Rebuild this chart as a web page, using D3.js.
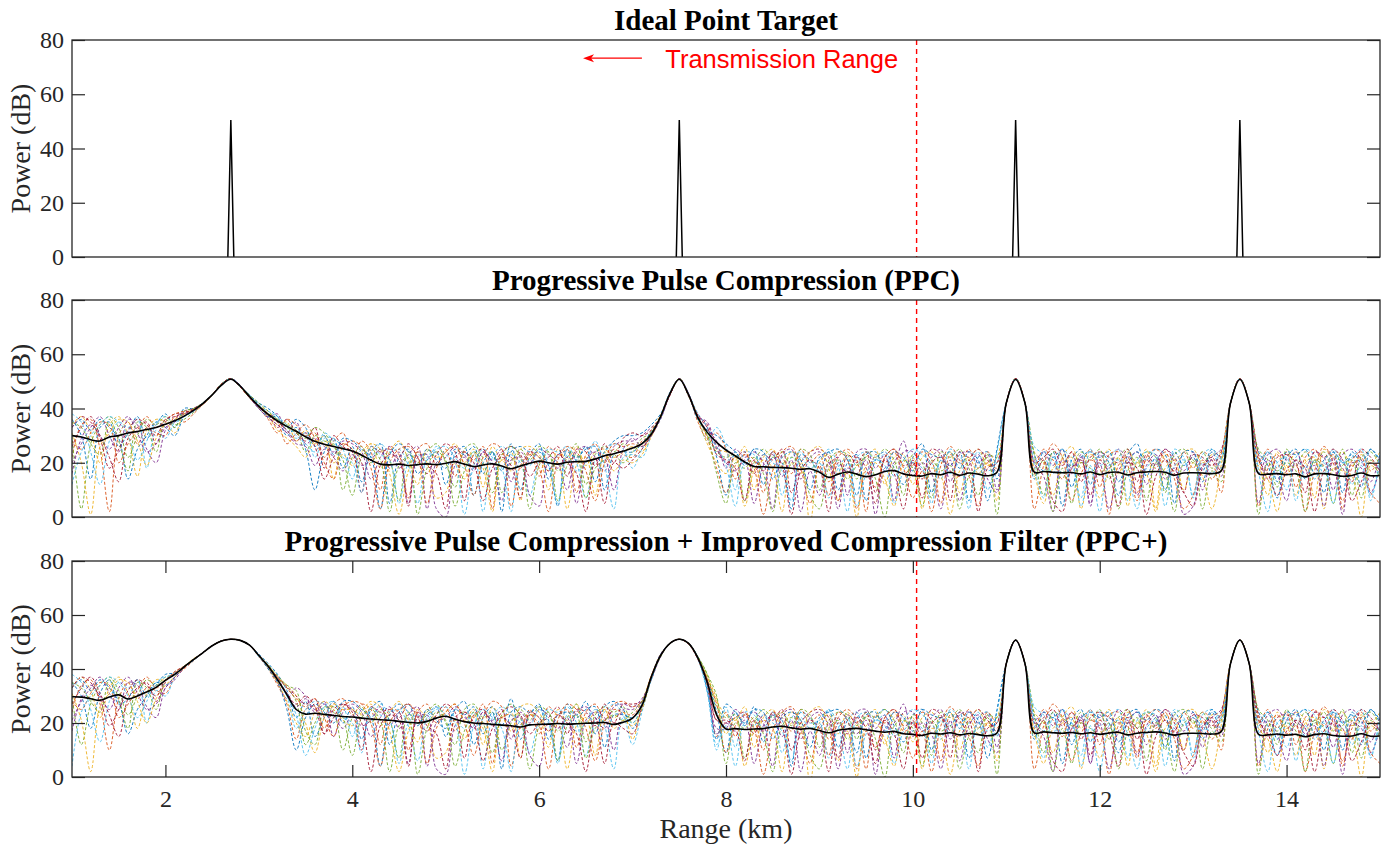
<!DOCTYPE html>
<html>
<head>
<meta charset="utf-8">
<script src="https://cdn.jsdelivr.net/npm/d3@7"></script>
<style>
  body { margin: 0; background: #fff; }
</style>
</head>
<body>
<div id="chart"></div>
<script>
// sample grid of every run: 1.0 km to 15.0 km, one value every 0.1 km
const xStart = 1;
const xStep = 0.1;

// ideal point targets
const peakX = [2.7, 7.5, 11.1, 13.5];
const peakDb = [50.5, 50.5, 50.5, 50.5];

// transmission range marker (km)
const txRange = 10.04;

const yTicks = [0, 20, 40, 60, 80];
const xTicks = [2, 4, 6, 8, 10, 12, 14];

// PPC: mean curve (black)
const ppcMean = [
  30,29.5,28.5,28,29.5,30,31,31.5,32.3,33,
  34.2,35.5,37.2,39.3,41.8,45,48.6,50.8,48.3,44.4,
  40.8,37.8,35.4,33.4,31.6,29.6,27.9,26.8,26,25.2,
  24.3,22.8,21,19.5,19.2,19.5,19,19.3,19.6,19.3,
  19.8,20.4,19.5,18.6,19.2,19.6,18.8,17.8,18.8,19.8,
  20.6,20,19.5,20.2,20.4,20.5,21.4,22.6,23.3,24.3,
  25.4,27,30.5,37,45.5,50.8,45,36.5,31.2,27.5,
  24.7,22.5,20.3,18.6,18.5,18.3,18.2,18,17.6,17.8,
  16.5,14.6,15.8,16.6,15.8,14.9,15.6,16.8,17.1,15.9,
  15.3,15.1,16,15.6,16.5,15.4,16.2,15.8,15.2,16.5,
  42,50.7,42,16.5,16.8,16.5,16.3,16.4,15.9,16.6,
  15.6,16.4,16.5,15.5,16.3,16.6,16.8,16.5,15.4,16.2,
  16.3,16.2,16,17,42,50.7,42,16,15.8,16,
  15.6,15.9,14.8,15.9,16,15.6,15,15.3,16.2,15.2,
  15.3
];

// PPC: single runs (dashed, coloured)
const ppcRuns = [
  [36,30,14,33,35,26,31,37,29,34,
   38,33,40,40,42,45,49,51,48,45,
   42,40,37,30,33,25,10,24,29,18,
   26,13,24,27,5,22,25,16,21,24,
   12,23,26,8,20,24,17,27,10,22,
   24,19,4,25,21,26,13,24,28,30,
   30,31,34,38,46,51,45,38,33,22,
   8,24,19,25,12,22,20,3,23,21,
   17,24,10,20,23,6,21,24,18,12,
   22,27,9,21,19,24,6,22,24,14,
   42,51,42,23,17,24,4,21,25,12,
   24,20,8,23,27,15,22,10,24,19,
   22,13,24,18,42,51,42,24,19,7,
   22,25,14,21,9,24,20,23,11,25,
   20],
  [22,34,36,25,2,30,35,27,33,31,
   30,37,35,38,41.5,45,49,51,48,44,
   40,36,31,36,34,30,31,22,28,31,
   21,28,24,10,26,23,7,25,27,19,
   25,15,24,21,26,3,23,22,18,25,
   15,26,22,25,9,23,27,20,25,23,
   22,28,30,37,45,51,45,35,29,31,
   25,14,23,21,9,24,22,16,25,20,
   23,13,22,25,21,2,23,20,24,16,
   19,24,21,5,23,20,25,18,24,20,
   42,51,42,18,25,21,14,24,20,25,
   11,23,24,19,6,22,25,21,17,24,
   18,24,21,9,42,51,42,20,25,18,
   24,11,22,25,19,23,3,21,24,17,
   22],
  [34,37,31,20,34,37,30,15,32,36,
   35,31,38,39.5,42,45,49,51,48,44,
   41,39,34,35,28,32,27,30,14,27,
   25,22,27,18,24,28,21,12,25,22,
   24,27,20,25,11,26,21,24,6,23,
   22,10,25,21,26,19,24,25,22,24,
   26,24,32,37.5,45.5,51,45,37,30,25,
   24,21,26,10,22,25,18,24,21,-2,
   20,23,16,24,19,22,25,12,22,23,
   12,22,24,20,24,9,21,25,19,22,
   42,51,42,24,20,8,22,26,18,23,
   21,25,16,24,20,25,3,23,21,24,
   25,20,23,24,42,51,42,22,8,24,
   18,24,21,7,25,22,24,19,23,20,
   24],
  [20,27,33,37,30,24,36,34,25,20,
   32,36,39,40,41.8,45,48.8,51,48.5,44,
   40,37,38,31,35,27,29,26,24,28,
   27,24,14,22,26,18,23,26,3,20,
   22,26,23,18,24,21,25,13,24,20,
   25,23,20,10,24,26,22,17,26,28,
   28,30,33,36.5,45.5,51,45.5,36,32,28,
   18,25,22,24,20,3,23,25,14,22,
   24,20,22,8,24,25,18,23,6,24,
   24,17,22,25,13,23,24,20,23,10,
   42,51,42,21,24,19,25,16,23,4,
   23,18,25,22,24,12,20,25,22,17,
   24,10,22,25,42,51,42,16,23,25,
   21,24,18,24,22,10,23,25,21,13,
   23],
  [30,3,27,34,37,33,22,30,36,34,
   37,34,36,38.5,41.5,45,49,51,48,45,
   42,39,36,34,32,24,30,28,27,10,
   22,26,20,25,21,6,24,20,24,27,
   20,11,25,27,22,24,9,20,25,21,
   26,24,17,22,27,12,23,26,24,27,
   25,29,31,37,45,51,44.5,36.5,30,24,
   22,23,6,20,25,22,24,19,25,23,
   10,21,24,23,14,24,22,25,21,8,
   23,20,7,24,22,25,18,8,23,22,
   42,51,42,23,8,24,22,19,24,21,
   25,14,22,25,18,24,22,9,23,25,
   20,24,18,21,42,51,42,25,21,11,
   25,19,24,20,24,17,25,8,22,24,
   19],
  [38,35,24,12,28,35,33,36,18,32,
   29,35,37,39,42,45,49,51,48,44.5,
   40,37,36,32,29,31,22,29,29,25,
   14,25,22,27,24,25,19,5,22,25,
   26,22,18,24,2,22,26,23,20,8,
   21,25,24,26,20,7,21,24,27,25,
   18,25,30,37,45.5,51,45.5,37,28,33,
   26,10,24,23,18,24,8,22,24,20,
   21,25,19,2,22,24,21,23,15,21,
   25,23,20,14,25,22,20,24,10,24,
   42,51,42,26,23,16,25,20,7,25,
   19,22,25,6,21,24,23,16,25,22,
   8,23,25,20,42,51,42,21,24,20,
   10,22,25,23,16,25,20,22,25,6,
   24],
  [26,33,37,30,22,13,29,33,35,27,
   35,38,38,40,42,45,49,51,48,44,
   41,38,33,36,31,28,33,18,30,26,
   24,9,26,24,25,22,27,22,16,23,
   27,24,6,23,25,19,24,26,23,15,
   20,22,26,15,25,24,19,27,20,29,
   31,30,32,37,45,51,45,37.5,34,26,
   20,22,24,16,23,21,25,9,20,24,
   25,22,6,23,20,24,9,22,25,19,
   20,14,25,23,6,24,22,25,21,17,
   42,51,42,20,22,25,19,24,13,22,
   24,22,20,25,13,23,19,25,20,9,
   23,22,19,24,42,51,42,23,14,22,
   23,20,9,24,22,25,21,13,25,22,
   17],
  [33,36,32,36,33,29,14,25,30,35,
   33,30,37,39,42,45,48.5,51,48.5,44,
   41.5,37,37,33,36,33,26,30,23,29,
   28,25,22,3,23,27,24,19,25,21,
   18,25,23,26,16,24,2,24,26,24,
   27,14,23,24,22,25,26,10,23,24,
   24,27,31.5,36.5,45.5,51,45,36,32,30,
   27,24,20,25,24,14,22,24,21,10,
   22,24,25,21,8,23,24,17,24,22,
   17,25,23,22,24,18,24,21,6,25,
   42,51,42,14,24,22,25,11,22,24,
   22,24,13,20,24,21,25,23,5,24,
   24,17,25,22,42,51,42,19,24,13,
   24,23,25,16,21,24,9,24,20,25,
   21],
  [28,25,31,35,34,20,27,32,37,33,
   36,38,39,39,42,45,49,51,48,44,
   41,38,35,27,31,34,29,20,14,26,
   28,26,18,3,20,25,26,22,5,18,
   24,26,19,8,22,27,25,4,19,23,
   18,2,21,26,24,17,6,20,27,26,
   27,26,31,37,45.5,51,45,37,29,18,
   9,19,23,18,1,17,24,26,18,5,
   19,8,24,21,3,17,11,22,25,18,
   7,17,2,19,26,21,15,4,20,18,
   42,51,42,3,19,27,22,6,16,21,
   18,1,19,22,9,21,18,24,14,3,
   8,21,14,23,42,51,42,4,18,23,
   16,19,2,17,26,20,6,18,22,9,
   5],
  [31,20,1,26,31,36,35,28,19,29,
   34,36,38,39.8,41.5,45,49,51,48,44.5,
   40.5,37,32,29,26,22,28,27,20,23,
   19,24,27,25,16,1,17,24,20,7,
   9,20,14,23,18,2,21,17,25,26,
   23,17,20,3,19,22,8,24,17,21,
   20,23,29.5,36.5,45.5,51,45,36,27,20,
   16,22,4,17,21,18,2,20,16,24,
   26,18,6,17,0,19,20,14,4,20,
   22,3,18,15,1,17,22,16,20,6,
   42,51,42,17,5,18,20,22,3,17,
   7,17,22,4,20,16,2,18,21,10,
   20,15,3,19,42,51,42,18,14,2,
   19,8,20,22,3,18,17,15,0,19,
   16],
  [16,29,34,30,25,33,37,31,24,27,
   33,35,38,39,41.8,45,48.7,51,48.3,44.2,
   40,36.5,34,31,27,26,19,25,22,17,
   23,19,21,25,18,24,5,22,23,3,
   0,19,22,17,24,20,6,21,22,8,
   4,20,18,22,5,21,24,22,10,25,
   29,26,30,36,45,51,45.5,37,35,25,
   20,17,21,5,19,23,15,21,2,17,
   8,20,3,18,16,21,1,18,20,28,
   15,20,16,3,21,6,19,23,14,9,
   42,51,42,20,15,2,21,18,22,5,
   20,3,17,21,8,19,23,14,18,1,
   4,19,21,15,42,51,42,5,21,16,
   6,21,16,19,4,22,1,20,18,9,
   18],
  [35,33,27,23,36,28,17,35,33,24,
   36,33,39,40,42,45,49,51,48,44,
   41,38,36,33,31,29,33,31,26,21,
   8,22,25,21,2,19,22,1,18,24,
   21,4,17,24,20,9,23,26,22,3,
   19,24,6,19,23,7,18,21,23,20,
   24,27,31,37,45.5,51,45,36.5,30,16,
   5,20,18,22,16,2,19,22,19,8,
   3,18,21,14,19,22,14,0,19,21,
   18,4,21,17,19,3,15,18,22,1,
   42,51,42,15,21,2,18,5,20,18,
   16,20,3,17,22,6,20,16,2,20,
   21,3,17,13,42,51,42,1,20,17,
   20,17,2,21,18,5,19,21,7,21,
   14],
  [12,24,30,34,37,35,30,21,28,35,
   37,35,37,39,42,45,49,51,48,45,
   41,39,37,34,30,27,24,31,28,22,
   20,9,26,23,21,5,20,23,21,26,
   23,20,1,19,25,22,18,2,21,19,
   25,20,5,23,17,20,28,19,3,22,
   23,22,30,36.5,45.5,51,45,36,31,26,
   19,4,20,19,23,20,17,6,22,18,
   20,7,18,22,4,16,21,19,5,17,
   20,18,5,21,16,20,3,20,17,20,
   42,51,42,19,7,22,16,20,4,19,
   2,19,21,16,3,18,21,4,19,21,
   7,20,16,22,42,51,42,17,2,20,
   22,6,19,14,20,5,21,12,19,8,
   20],
  [33,37,35,29,18,25,32,36,34,30,
   36,37,38.5,39.5,41.5,45,49,51,48,44,
   40.5,37.5,35,32,28,31,26,14,22,27,
   25,20,2,19,23,21,4,24,19,16,
   3,22,24,20,6,18,22,19,7,24,
   22,17,23,20,16,2,22,5,20,18,
   21,25,30,37,45,51,44.5,37,33,23,
   21,18,6,21,17,24,19,1,17,21,
   18,2,20,16,22,18,5,21,16,3,
   21,7,20,22,17,15,21,2,18,20,
   42,51,42,16,21,6,2,18,21,8,
   21,16,4,20,18,1,15,21,16,9,
   4,18,22,17,42,51,42,21,16,8,
   17,21,18,2,17,20,18,6,13,20,
   17]
];

// PPC+: mean curve (black)
const ppcPlusMean = [
  29.7,29.6,29,28.4,29.6,30.4,28.9,30,31.5,33.2,
  35.8,38,40.8,43.5,46,48.6,50.4,51,50.6,48.8,
  45,41,36,30.5,25,23.3,23.6,23.2,22.8,22.4,
  22.2,21.8,21.5,21.2,21,20.6,20.3,20,20.6,21.8,
  22.5,21.4,20.5,20,19.8,19.5,19.2,19,18.5,19.3,
  19.5,19.6,19.8,19.6,19.7,19.9,20,20.2,19.5,20.3,
  21.8,26.5,37,45,49.5,51,49.5,44,35,23,
  17.8,17.9,17.6,17.8,17.9,18.5,18.8,18.2,17.7,18,
  17.2,16.4,17.3,17.8,18,17.5,17,16.6,16.9,16,
  15.8,15.4,16.2,15.9,16.4,15.6,16.1,15.7,15.3,16.3,
  42,50.7,42,16.3,16.7,16.4,16.2,16.5,16,16.4,
  15.8,16.3,16.6,15.6,16.2,16.5,16.7,16.3,15.5,16.1,
  16.2,16.1,15.9,16.8,42,50.7,42,15.8,15.6,15.9,
  15.5,15.8,14.9,15.7,16,15.4,15.1,15.2,16,15.1,
  15.2
];

// PPC+: single runs (dashed, coloured)
const ppcPlusRuns = [
  [35,30,18,31,36,27,29,36,30,34,
   38,38.5,40.8,43.5,46,48.6,50.4,51,50.6,48.8,
   45.5,42,38,32,22,28,15,22,28,20,
   26,14,25,28,12,24,27,20,23,26,
   15,25,28,12,22,26,19,29,14,23,
   26,21,6,27,23,28,16,26,28,25,
   18,25,36,45,49.5,51,49.5,44.5,36,24,
   9,24,19,26,13,23,21,4,24,22,
   18,25,11,21,24,7,22,25,19,13,
   23,25,10,22,19,24,7,22,24,15,
   42,50.7,42,22,17,24,5,21,25,13,
   24,20,9,23,25,16,22,11,24,19,
   22,14,24,18,42,50.7,42,24,19,8,
   21,25,15,21,10,24,20,23,12,25,
   20],
  [24,34,36,27,10,29,35,29,33,32,
   31,37,40,43,46,48.6,50.4,51,50.6,48.8,
   44.5,40,34,27,14,25,26,18,27,29,
   23,27,25,12,25,24,10,24,27,20,
   26,17,24,22,27,5,22,23,18,25,
   16,26,23,25,11,24,27,21,25,24,
   23,28,37,45,49.5,51,49.2,43.5,33,15,
   24,15,23,21,10,24,22,17,25,20,
   23,14,22,25,21,3,23,20,24,17,
   19,24,21,6,23,20,25,18,24,20,
   42,50.7,42,18,25,21,15,24,20,25,
   12,23,24,19,7,22,25,21,17,24,
   18,24,21,10,42,50.7,42,20,25,18,
   24,12,22,25,19,23,4,21,24,17,
   22],
  [33,37,32,22,33,37,31,18,31,36,
   36,39,41,43.8,46,48.6,50.4,51,50.6,48.8,
   45,41.5,37,34,30,20,9,22,27,25,
   25,23,27,19,24,28,21,13,25,22,
   24,27,21,25,12,26,22,24,7,23,
   22,11,25,21,27,20,24,25,22,24,
   14,27,37.5,45.5,49.5,51,49.5,44,37,28,
   23,21,26,11,22,25,18,24,21,-2,
   20,23,16,24,19,22,25,12,22,23,
   13,22,24,20,24,10,21,25,19,22,
   42,50.7,42,24,20,9,22,26,18,23,
   21,25,16,24,20,25,4,23,21,24,
   25,20,23,24,42,50.7,42,22,9,24,
   18,24,21,8,25,22,24,19,23,20,
   24],
  [21,28,33,37,31,25,35,34,26,22,
   33,36,40.5,43.5,46,48.6,50.4,51,50.6,48.8,
   45,40.5,35,29,33,30,25,28,15,24,
   27,24,15,22,26,18,23,26,4,20,
   22,26,23,18,24,21,25,14,24,20,
   25,23,20,11,24,26,22,18,26,27,
   26,29,36,44.5,49.5,51,49.5,44,34,18,
   18,25,22,24,20,4,23,25,14,22,
   24,20,22,9,24,25,18,23,7,24,
   24,17,22,25,14,23,24,20,23,11,
   42,50.7,42,21,24,19,25,16,23,5,
   23,18,25,22,24,12,20,25,22,17,
   24,11,22,25,42,50.7,42,16,23,25,
   21,24,18,24,22,11,23,25,21,13,
   23],
  [30,12,27,34,37,32,23,30,36,34,
   37,38,41,43.5,46,48.6,50.4,51,50.6,48.8,
   45,41,36.5,33,28,12,20,26,24,10,
   22,26,20,25,21,7,24,20,24,27,
   20,12,25,27,22,24,10,20,25,21,
   26,24,17,22,27,13,23,26,24,26,
   20,26,36.5,45,49.5,51,49.2,44.5,38,26,
   22,23,7,20,25,22,24,19,25,23,
   11,21,24,23,14,24,22,25,21,9,
   23,20,8,24,22,25,18,9,23,22,
   42,50.7,42,23,9,24,22,19,24,21,
   25,14,22,25,18,24,22,10,23,25,
   20,24,18,21,42,50.7,42,25,21,12,
   25,19,24,20,24,17,25,9,22,24,
   19],
  [38,35,25,13,28,35,33,36,20,32,
   30,37,40.6,43.2,46,48.6,50.4,51,50.6,48.8,
   44.5,40.5,35.5,30,18,25,28,27,22,26,
   15,25,22,27,24,25,19,6,22,25,
   26,22,18,24,3,22,26,23,20,9,
   21,25,24,26,20,8,21,24,27,23,
   12,24,37,45.5,49.5,51,49.5,43.5,31,10,
   26,11,24,23,18,24,9,22,24,20,
   21,25,19,3,22,24,21,23,15,21,
   25,23,20,14,25,22,20,24,11,24,
   42,50.7,42,26,23,16,25,20,8,25,
   19,22,25,7,21,24,23,16,25,22,
   9,23,25,20,42,50.7,42,21,24,20,
   11,22,25,23,16,25,20,22,25,7,
   24],
  [27,33,37,31,23,15,29,33,35,28,
   35,39,41,43.6,46,48.6,50.4,51,50.6,48.8,
   45,41,37,33.5,30,27,29,16,25,27,
   24,10,26,24,25,22,27,22,17,23,
   27,24,7,23,25,19,24,26,23,16,
   20,22,26,16,25,24,19,27,20,27,
   27,28,37,45,49.5,51,49.5,44,36,21,
   20,22,24,16,23,21,25,10,20,24,
   25,22,7,23,20,24,10,22,25,19,
   20,15,25,23,7,24,22,25,21,17,
   42,50.7,42,20,22,25,19,24,14,22,
   24,22,20,25,14,23,19,25,20,10,
   23,22,19,24,42,50.7,42,23,15,22,
   23,20,10,24,22,25,21,14,25,22,
   17],
  [33,36,32,36,33,28,16,25,30,35,
   34,37,40.5,43.2,46,48.6,50.4,51,50.6,48.8,
   45,40,35,25,10,22,27,24,20,28,
   28,25,22,4,23,27,24,19,25,21,
   18,25,23,26,16,24,3,24,26,24,
   27,14,23,24,22,25,26,11,23,23,
   22,27,36,45,49.5,51,49.5,44,32,14,
   27,24,20,25,24,14,22,24,21,11,
   22,24,25,21,9,23,24,17,24,22,
   17,25,23,22,24,18,24,21,7,25,
   42,50.7,42,14,24,22,25,12,22,24,
   22,24,13,20,24,21,25,23,6,24,
   24,17,25,22,42,50.7,42,19,24,14,
   24,23,25,16,21,24,10,24,20,25,
   21],
  [28,25,31,35,34,22,27,32,37,33,
   36,38.5,41,43.5,46,48.6,50.4,51,50.6,48.8,
   45,41,37,33,29,26,29,22,15,26,
   28,27,20,4,20,25,27,23,5,18,
   24,27,20,8,22,28,26,4,19,23,
   19,3,21,27,25,18,6,20,27,28,
   26,28,37.5,45,49.5,51,49.5,44,36,27,
   9,19,23,18,1,17,24,26,18,5,
   19,8,24,21,3,17,11,22,25,18,
   7,17,2,19,26,21,15,4,20,18,
   42,50.7,42,3,19,27,22,6,16,21,
   18,1,19,22,9,21,18,24,14,3,
   8,21,14,23,42,50.7,42,4,18,23,
   16,19,2,17,26,20,6,18,22,9,
   5],
  [31,21,2,26,31,36,35,28,20,29,
   34,37,40.5,43.5,46,48.6,50.4,51,50.6,48.8,
   45,40.5,35,28,20,15,24,28,25,21,
   19,24,28,26,17,2,17,25,21,7,
   9,21,14,23,18,2,22,17,26,27,
   24,17,20,3,19,22,8,25,18,21,
   19,25,36.5,45,49.5,51,49.5,44,37,29,
   16,22,4,17,21,18,2,20,16,24,
   26,18,6,17,0,19,20,14,4,20,
   22,3,18,15,1,17,22,16,20,6,
   42,50.7,42,17,5,18,20,22,3,17,
   7,17,22,4,20,16,2,18,21,10,
   20,15,3,19,42,50.7,42,18,14,2,
   19,8,20,22,3,18,17,15,0,19,
   16],
  [17,29,34,30,25,33,37,31,25,27,
   33,37,40.6,43.4,46,48.6,50.4,51,50.6,48.8,
   45,41,36.5,31,26,29,24,27,23,18,
   23,19,21,26,19,24,5,22,23,3,
   1,19,22,18,24,20,6,21,22,8,
   4,20,18,22,5,21,24,22,10,25,
   25,28,37,45.5,49.5,51,49.5,44,34,16,
   20,17,21,5,19,23,15,21,2,17,
   8,20,3,18,16,21,1,18,20,27,
   15,20,16,3,21,6,19,23,14,9,
   42,50.7,42,20,15,2,21,18,22,5,
   20,3,17,21,8,19,23,14,18,1,
   4,19,21,15,42,50.7,42,5,21,16,
   6,21,16,19,4,22,1,20,18,9,
   18],
  [35,33,28,24,36,29,18,35,33,25,
   36,38,41,43.5,46,48.6,50.4,51,50.6,48.8,
   45,41.5,37.5,34,32,17,12,25,26,22,
   8,22,25,21,2,19,22,1,18,24,
   21,4,17,24,20,9,23,27,22,3,
   19,24,6,19,23,7,18,21,23,21,
   24,28,37,44.5,49.5,51,49.5,44.5,38,30,
   5,20,18,22,16,2,19,22,19,8,
   3,18,21,14,19,22,14,0,19,21,
   18,4,21,17,19,3,15,18,22,1,
   42,50.7,42,15,21,2,18,5,20,18,
   16,20,3,17,22,6,20,16,2,20,
   21,3,17,13,42,50.7,42,1,20,17,
   20,17,2,21,18,5,19,21,7,21,
   14],
  [4,24,30,34,37,35,30,22,28,35,
   37,38,40.8,43.5,46,48.6,50.4,51,50.6,48.8,
   45,40.8,36,30,23,8,18,26,28,22,
   20,9,26,23,21,5,20,23,21,26,
   23,20,1,19,25,22,18,2,21,19,
   25,20,5,23,17,20,25,19,3,22,
   20,27,36.5,45,49.5,51,49.5,44,33,12,
   19,4,20,19,23,20,17,6,22,18,
   20,7,18,22,4,16,21,19,5,17,
   20,18,5,21,16,20,3,20,17,20,
   42,50.7,42,19,7,22,16,20,4,19,
   2,19,21,16,3,18,21,4,19,21,
   7,20,16,22,42,50.7,42,17,2,20,
   22,6,19,14,20,5,21,12,19,8,
   20],
  [33,37,35,29,19,25,32,36,34,30,
   36,38,40.6,43.5,46,48.6,50.4,51,50.6,48.8,
   45,41,36,31,27,30,26,16,22,27,
   25,20,2,19,23,21,4,24,19,16,
   3,22,24,20,6,18,22,19,7,24,
   22,17,23,20,16,2,22,5,20,18,
   16,26,37,45,49.5,51,49.2,43.5,35,21,
   21,18,6,21,17,24,19,1,17,21,
   18,2,20,16,22,18,5,21,16,3,
   21,7,20,22,17,15,21,2,18,20,
   42,50.7,42,16,21,6,2,18,21,8,
   21,16,4,20,18,1,15,21,16,9,
   4,18,22,17,42,50.7,42,21,16,8,
   17,21,18,2,17,20,18,6,13,20,
   17]
];

// MATLAB default line colours
const colors = ["#0072BD", "#D95319", "#EDB120", "#7E2F8E", "#77AC30", "#4DBEEE", "#A2142F"];

const width = 1385, height = 846;
const left = 72, right = 1380;
const axisColor = "#262626";
const serif = "'Liberation Serif', 'Times New Roman', serif";

const panels = [
  {top: 40, bottom: 257, title: "Ideal Point Target"},
  {top: 300, bottom: 517, title: "Progressive Pulse Compression (PPC)", mean: ppcMean, runs: ppcRuns},
  {top: 561, bottom: 777, title: "Progressive Pulse Compression + Improved Compression Filter (PPC+)",
   mean: ppcPlusMean, runs: ppcPlusRuns, xAxis: true}
];

const svg = d3.select("#chart").append("svg")
  .attr("width", width)
  .attr("height", height)
  .style("font-family", serif);

const x = d3.scaleLinear().domain([1, 15]).range([left, right]);

panels.forEach(function(p, k) {
  const y = d3.scaleLinear().domain([0, 80]).range([p.bottom, p.top]);
  const g = svg.append("g");

  g.append("clipPath").attr("id", "clip" + k)
    .append("rect")
    .attr("x", left).attr("y", p.top)
    .attr("width", right - left).attr("height", p.bottom - p.top);

  const plot = g.append("g").attr("clip-path", "url(#clip" + k + ")");

  const line = d3.line()
    .x(function(d, i) { return x(xStart + i * xStep); })
    .y(function(d) { return y(d); })
    .curve(d3.curveCatmullRom.alpha(0.5));

  if (p.runs) {
    plot.selectAll(".run")
      .data(p.runs)
      .enter().append("path")
      .attr("class", "run")
      .attr("d", line)
      .attr("fill", "none")
      .attr("stroke", function(d, i) { return colors[i % colors.length]; })
      .attr("stroke-width", 0.9)
      .attr("stroke-dasharray", "3,2");

    plot.append("path")
      .datum(p.mean)
      .attr("d", line)
      .attr("fill", "none")
      .attr("stroke", "#000")
      .attr("stroke-width", 1.6);
  } else {
    // ideal targets: narrow spikes
    const half = 0.032;
    plot.selectAll(".spike")
      .data(peakX)
      .enter().append("path")
      .attr("class", "spike")
      .attr("d", function(d, i) {
        return d3.line()([[x(d - half), y(0)], [x(d), y(peakDb[i])], [x(d + half), y(0)]]);
      })
      .attr("fill", "none")
      .attr("stroke", "#000")
      .attr("stroke-width", 1.5);
  }

  // transmission range marker
  plot.append("line")
    .attr("x1", x(txRange)).attr("x2", x(txRange))
    .attr("y1", p.top).attr("y2", p.bottom)
    .attr("stroke", "red")
    .attr("stroke-width", 1.4)
    .attr("stroke-dasharray", "5,4");

  // y axes (left with labels, right mirrored)
  const yl = g.append("g")
    .attr("transform", "translate(" + left + ",0)")
    .call(d3.axisLeft(y).tickValues(yTicks).tickSize(-13).tickPadding(8));
  yl.selectAll("text").attr("font-size", 24).attr("font-family", serif).attr("fill", axisColor);

  g.append("g")
    .attr("transform", "translate(" + right + ",0)")
    .call(d3.axisRight(y).tickValues(yTicks).tickSize(-13).tickFormat(""));

  if (p.xAxis) {
    const xb = g.append("g")
      .attr("transform", "translate(0," + p.bottom + ")")
      .call(d3.axisBottom(x).tickValues(xTicks).tickSize(-12).tickPadding(13));
    xb.selectAll("text").attr("font-size", 24).attr("font-family", serif).attr("fill", axisColor);

    g.append("g")
      .attr("transform", "translate(0," + p.top + ")")
      .call(d3.axisTop(x).tickValues(xTicks).tickSize(-12).tickFormat(""));
  }

  g.selectAll(".domain").remove();
  g.selectAll(".tick line").attr("stroke", axisColor).attr("stroke-width", 1.2);

  // box
  g.append("rect")
    .attr("x", left).attr("y", p.top)
    .attr("width", right - left).attr("height", p.bottom - p.top)
    .attr("fill", "none")
    .attr("stroke", axisColor)
    .attr("stroke-width", 1.3);

  // title
  g.append("text")
    .attr("x", (left + right) / 2)
    .attr("y", p.top - 10)
    .attr("text-anchor", "middle")
    .attr("font-size", 29)
    .attr("font-weight", "bold")
    .attr("fill", "#000")
    .text(p.title);

  // y label
  g.append("text")
    .attr("transform", "translate(30," + (p.top + p.bottom) / 2 + ") rotate(-90)")
    .attr("text-anchor", "middle")
    .attr("font-size", 28)
    .attr("fill", axisColor)
    .text("Power (dB)");

  if (k === 0) {
    // annotation: arrow pointing towards shorter range
    const ay = y(73.3), ax0 = x(7.1), ax1 = x(6.47);
    g.append("line")
      .attr("x1", ax0).attr("x2", ax1 + 6)
      .attr("y1", ay).attr("y2", ay)
      .attr("stroke", "red")
      .attr("stroke-width", 1.4);
    g.append("path")
      .attr("d", "M" + ax1 + "," + ay + " l11,-4 l-3,4 l3,4 z")
      .attr("fill", "red");

    g.append("text")
      .attr("x", x(7.35))
      .attr("y", y(69.7))
      .attr("font-family", "'Liberation Sans', Arial, sans-serif")
      .attr("font-size", 25.5)
      .attr("fill", "red")
      .text("Transmission Range");
  }
});

svg.append("text")
  .attr("x", (left + right) / 2)
  .attr("y", 838)
  .attr("text-anchor", "middle")
  .attr("font-size", 28)
  .attr("fill", axisColor)
  .text("Range (km)");
</script>
</body>
</html>
